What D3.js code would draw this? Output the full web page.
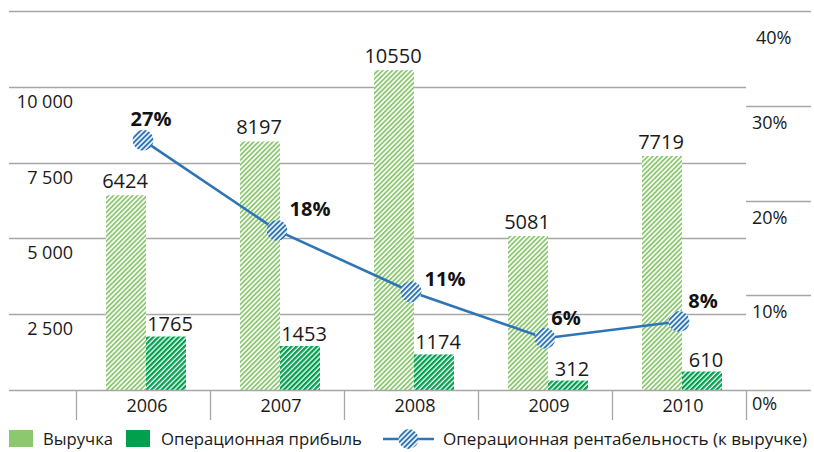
<!DOCTYPE html>
<html>
<head>
<meta charset="utf-8">
<script src="https://cdn.jsdelivr.net/npm/d3@7"></script>
<style>
  body { margin: 0; background: #fff; }
  svg { display: block; font-family: "Open Sans", sans-serif; }
</style>
</head>
<body>
<svg id="chart" width="814" height="452"></svg>
<script>
// data
const years = ['2006', '2007', '2008', '2009', '2010'];
const revenue = [6424, 8197, 10550, 5081, 7719];
const profit = [1765, 1453, 1174, 312, 610];
const margin = [27.4, 17.7, 11.1, 6.1, 7.9];
const leftTicks = [2500, 5000, 7500, 10000];
const rightTicks = [0, 10, 20, 30, 40];
const seriesNames = ['Выручка', 'Операционная прибыль', 'Операционная рентабельность (к выручке)'];

// layout
const baseY = 390;
const topY = 11;
const plotLeft = 9, plotRight = 811, catLeft = 76, catRight = 746;
const barW = 40;
const pctDx = [8, 33, 34, 21, 24];
const pctDy = [-14, -14, -6, -13, -14];

const colRevenue = '#8cc870';
const colProfit = '#00a04e';
const colLine = '#2e75b6';
const colGrid = '#a6a6a6';

const svg = d3.select('#chart');

const defs = svg.append('defs');
const stripes = (id, color, period, w) => {
  const p = defs.append('pattern')
    .attr('id', id)
    .attr('patternUnits', 'userSpaceOnUse')
    .attr('width', period).attr('height', period)
    .attr('patternTransform', 'rotate(45)');
  p.append('rect').attr('width', period).attr('height', period).attr('fill', '#fff');
  p.append('rect').attr('width', w).attr('height', period).attr('fill', color);
};
stripes('hRev', colRevenue, 3.4, 1.8);
stripes('hProf', colProfit, 3.6, 2.3);
stripes('hLine', colLine, 3.6, 2.0);

const x = d3.scaleBand().domain(years).range([catLeft, catRight]);
const y = d3.scaleLinear().domain([0, 12500]).range([baseY, topY]);
const yR = d3.scaleLinear().domain([0, 40]).range([baseY, topY]);
// line points sit a little lower in the original picture
const yLine = d3.scaleLinear().domain([0, 40]).range([395, 23]);

const fmt = d3.formatLocale({ decimal: ',', thousands: ' ', grouping: [3], currency: ['', ''] }).format(',');

// gridlines
svg.append('g').selectAll('line')
  .data(leftTicks)
  .join('line')
  .attr('x1', plotLeft).attr('x2', catRight)
  .attr('y1', d => Math.round(y(d)) + 0.5).attr('y2', d => Math.round(y(d)) + 0.5)
  .attr('stroke', colGrid).attr('stroke-width', 1.3);

svg.append('g').selectAll('line')
  .data(rightTicks.filter(d => d > 0 && d < 40))
  .join('line')
  .attr('x1', catRight).attr('x2', plotRight)
  .attr('y1', d => Math.round(yR(d)) + 0.5).attr('y2', d => Math.round(yR(d)) + 0.5)
  .attr('stroke', colGrid).attr('stroke-width', 1.3);

svg.append('line')
  .attr('x1', plotLeft).attr('x2', plotRight)
  .attr('y1', topY + 0.5).attr('y2', topY + 0.5)
  .attr('stroke', colGrid).attr('stroke-width', 1.3);

// left labels
svg.append('g').selectAll('text')
  .data(leftTicks)
  .join('text')
  .attr('x', 73).attr('y', d => y(d) + 21)
  .attr('text-anchor', 'end')
  .attr('font-size', 18).attr('fill', '#1a1a1a')
  .text(d => fmt(d));

// right labels
svg.append('g').selectAll('text')
  .data(rightTicks)
  .join('text')
  .attr('x', d => d === 40 ? 756 : 752)
  .attr('y', d => d === 40 ? yR(d) + 33 : yR(d) + (d === 0 ? 20 : 23))
  .attr('font-size', 18).attr('fill', '#1a1a1a')
  .text(d => d + '%');

// bars
const bars = svg.append('g');
bars.selectAll('rect.rev')
  .data(years)
  .join('rect')
  .attr('class', 'rev')
  .attr('x', (d) => x(d) + x.bandwidth() / 2 + 3 - barW)
  .attr('y', (d, i) => y(revenue[i]))
  .attr('width', barW)
  .attr('height', (d, i) => baseY - y(revenue[i]))
  .attr('fill', 'url(#hRev)');

bars.selectAll('rect.prof')
  .data(years)
  .join('rect')
  .attr('class', 'prof')
  .attr('x', (d) => x(d) + x.bandwidth() / 2 + 3)
  .attr('y', (d, i) => y(profit[i]))
  .attr('width', barW)
  .attr('height', (d, i) => baseY - y(profit[i]))
  .attr('fill', 'url(#hProf)');

// bar labels
svg.append('g').selectAll('text')
  .data(years)
  .join('text')
  .attr('x', d => x(d) + x.bandwidth() / 2 + 3 - barW / 2 - 1)
  .attr('y', (d, i) => y(revenue[i]) - 7)
  .attr('text-anchor', 'middle')
  .attr('font-size', 20).attr('fill', '#1a1a1a')
  .text((d, i) => revenue[i]);

svg.append('g').selectAll('text')
  .data(years)
  .join('text')
  .attr('x', d => x(d) + x.bandwidth() / 2 + 3 + barW / 2 + 4)
  .attr('y', (d, i) => y(profit[i]) - 5)
  .attr('text-anchor', 'middle')
  .attr('font-size', 20).attr('fill', '#1a1a1a')
  .text((d, i) => profit[i]);

// category axis
svg.append('line')
  .attr('x1', plotLeft).attr('x2', plotRight)
  .attr('y1', baseY + 0.5).attr('y2', baseY + 0.5)
  .attr('stroke', colGrid).attr('stroke-width', 1.3);

const bounds = years.map(d => x(d)).concat([x(years[years.length - 1]) + x.bandwidth()]);
svg.append('g').selectAll('line')
  .data(bounds)
  .join('line')
  .attr('x1', d => Math.round(d) + 0.5).attr('x2', d => Math.round(d) + 0.5)
  .attr('y1', baseY).attr('y2', baseY + 30)
  .attr('stroke', colGrid).attr('stroke-width', 1.3);

svg.append('g').selectAll('text')
  .data(years)
  .join('text')
  .attr('x', d => x(d) + x.bandwidth() / 2 + 4)
  .attr('y', baseY + 22)
  .attr('text-anchor', 'middle')
  .attr('font-size', 18).attr('fill', '#1a1a1a')
  .text(d => d);

// margin line
const cx = d => x(d) + x.bandwidth() / 2;
const line = d3.line()
  .x(d => cx(d))
  .y((d, i) => yLine(margin[i]));

svg.append('path')
  .datum(years)
  .attr('d', line)
  .attr('fill', 'none')
  .attr('stroke', colLine)
  .attr('stroke-width', 2.6);

svg.append('g').selectAll('circle')
  .data(years)
  .join('circle')
  .attr('cx', d => cx(d))
  .attr('cy', (d, i) => yLine(margin[i]))
  .attr('r', 10.5)
  .attr('fill', 'url(#hLine)');

svg.append('g').selectAll('text')
  .data(years)
  .join('text')
  .attr('x', (d, i) => cx(d) + pctDx[i])
  .attr('y', (d, i) => yLine(margin[i]) + pctDy[i])
  .attr('text-anchor', 'middle')
  .attr('font-size', 20).attr('font-weight', 'bold').attr('fill', '#111')
  .text((d, i) => d3.format('.0f')(margin[i]) + '%');

// legend
const lg = svg.append('g').attr('font-size', 17).attr('fill', '#1a1a1a');
lg.append('rect').attr('x', 9).attr('y', 430).attr('width', 24).attr('height', 17).attr('fill', colRevenue);
lg.append('text').attr('x', 43).attr('y', 445).attr('textLength', 70).attr('lengthAdjust', 'spacingAndGlyphs').text(seriesNames[0]);
lg.append('rect').attr('x', 126).attr('y', 430).attr('width', 24).attr('height', 17).attr('fill', colProfit);
lg.append('text').attr('x', 161).attr('y', 445).attr('textLength', 201).attr('lengthAdjust', 'spacingAndGlyphs').text(seriesNames[1]);
lg.append('line').attr('x1', 383).attr('x2', 434).attr('y1', 439).attr('y2', 439)
  .attr('stroke', colLine).attr('stroke-width', 2.6);
lg.append('circle').attr('cx', 408.5).attr('cy', 439).attr('r', 10).attr('fill', 'url(#hLine)');
lg.append('text').attr('x', 443).attr('y', 445).attr('textLength', 364).attr('lengthAdjust', 'spacingAndGlyphs').text(seriesNames[2]);
</script>
</body>
</html>
